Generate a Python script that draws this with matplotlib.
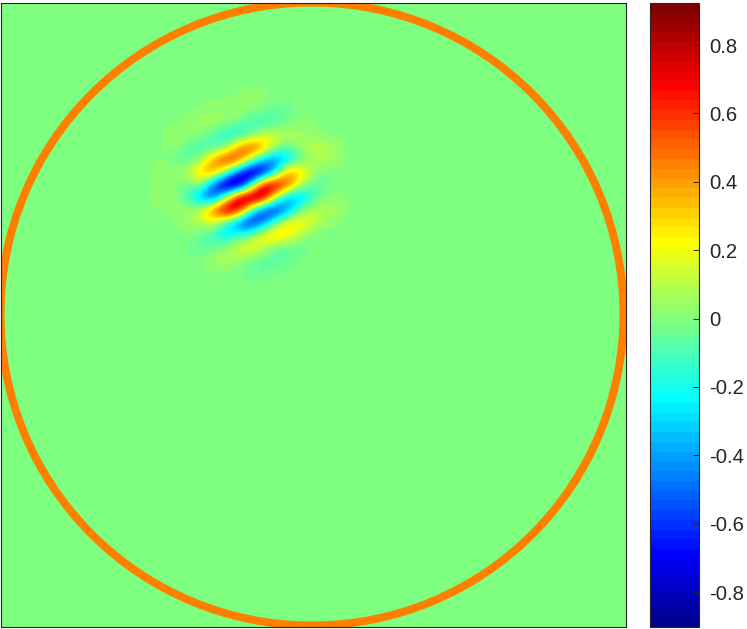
import numpy as np
import matplotlib
matplotlib.use("Agg")
import matplotlib.pyplot as plt
from matplotlib.colors import Normalize, ListedColormap
from matplotlib.patches import Circle
from matplotlib.cm import ScalarMappable

plt.rcParams['font.family'] = ['Liberation Sans', 'DejaVu Sans']

W, H = 747, 629
vmin, vmax = -0.902, 0.923
ring_value = 0.45
colorbar_ticks = [-0.8, -0.6, -0.4, -0.2, 0, 0.2, 0.4, 0.6, 0.8]
colorbar_labels = ['-0.8', '-0.6', '-0.4', '-0.2', '0', '0.2', '0.4', '0.6', '0.8']

# wave packet, read every 12.5 px over x 150..350, y 85..285 of the picture
packet = np.array([
 [0,0,0,0,0,0,0,0,0,0,0,0,0,0,0,0,0],
 [0,0,0,0,0,0,0,.01,.04,.03,.01,0,0,0,0,0,0],
 [0,0,0,0,.01,.03,.05,.06,.02,-.01,-.07,-.04,-.01,0,0,0,0],
 [0,0,.01,.02,.06,.07,.03,-.03,-.12,-.14,-.10,-.03,.03,.01,0,0,0],
 [0,0,.04,.05,.02,-.08,-.19,-.22,-.10,.12,.15,.10,.05,.03,0,0,0],
 [0,.01,.03,-.06,-.15,-.12,-.05,.40,.65,.45,.08,-.08,.05,.10,.10,.03,0],
 [0,.02,-.04,-.08,.03,.40,.70,.65,.12,-.35,-.55,-.32,-.08,.06,.08,.04,0],
 [.01,.03,.05,.08,.35,.45,.02,-.58,-1.02,-.88,-.28,.45,.35,.06,-.03,0,0],
 [0,.03,.01,-.06,.06,-.50,-1.02,-1.05,-.32,.80,.92,.58,.10,-.08,-.06,0,0],
 [.01,.05,.03,-.10,-.42,-.65,-.02,.88,1.10,.95,.12,-.40,-.40,-.14,.02,.03,0],
 [0,.01,.03,.05,.14,.55,.95,.85,-.05,-.65,-.75,-.45,-.02,.12,.08,.05,0],
 [0,0,0,.05,.08,.16,-.15,-.52,-.78,-.52,-.05,.25,.28,.14,.05,.01,0],
 [0,0,0,0,-.03,-.14,-.28,-.18,.0,.27,.36,.28,.08,-.02,-.03,0,0],
 [0,0,0,-.03,-.08,-.03,.03,.17,.22,.13,-.05,-.09,-.05,-.02,0,0,0],
 [0,0,0,0,0,.06,.08,.04,-.02,-.08,-.09,-.05,-.01,0,0,0,0],
 [0,0,0,0,0,0,0,-.02,-.05,-.05,-.02,-.01,0,0,0,0,0],
 [0,0,0,0,0,0,0,0,0,0,0,0,0,0,0,0,0],
])
packet_first_cell = (8, 12)   # row, column of the packet within the field
field_step = 12.5
field_origin = (0.0, -15.0)   # picture x, y of field cell (0, 0)
field_shape = (52, 52)

# ring, in picture pixels
ring_centre = (312.0, 314.0)
ring_radius = 311.5
ring_width_px = 8.0

frame_colour = '#262626'

# the 64-step rainbow palette of the reference
_pos = (np.arange(64) + 1) / 64
_palette = np.column_stack([
    np.interp(_pos, [0, .375, .625, .875, 1], [0, 0, 1, 1, .5]),
    np.interp(_pos, [0, .125, .375, .625, .875, 1], [0, 0, 1, 1, 0, 0]),
    np.interp(_pos, [0, .125, .375, .625, 1], [.5, 1, 1, 0, 0]),
])
cmap = ListedColormap(_palette)
norm = Normalize(vmin, vmax)

fig = plt.figure(figsize=(W / 100, H / 100), dpi=100)

def box(l, t, r, b):
    return [l / W, 1 - b / H, (r - l) / W, (b - t) / H]

field = np.zeros(field_shape)
r0, c0 = packet_first_cell
field[r0:r0 + packet.shape[0], c0:c0 + packet.shape[1]] = packet

ax = fig.add_axes(box(1, 3, 626, 627))
x0, y0 = field_origin
ax.imshow(field, cmap=cmap, norm=norm, interpolation='bicubic', interpolation_stage='data',
          extent=(x0 - field_step / 2, x0 + (field_shape[1] - .5) * field_step,
                  y0 + (field_shape[0] - .5) * field_step, y0 - field_step / 2), zorder=1)
ax.add_patch(Circle(ring_centre, ring_radius, fill=False, edgecolor=cmap(norm(ring_value)),
                    linewidth=ring_width_px * 0.72, zorder=2))
ax.set_xlim(1, 626)
ax.set_ylim(627, 3)
ax.set_aspect('auto')
ax.set_xticks([])
ax.set_yticks([])
for s in ax.spines.values():
    s.set_color(frame_colour)
    s.set_linewidth(0.8)

cax = fig.add_axes(box(650, 3, 699, 627))
cb = fig.colorbar(ScalarMappable(norm=norm, cmap=cmap), cax=cax)
cb.set_ticks(colorbar_ticks, labels=colorbar_labels)
cb.ax.tick_params(direction='in', length=4.3, width=0.7, color=frame_colour,
                  labelcolor=frame_colour, labelsize=14.6, pad=7.5, right=True, left=False)
cb.outline.set_edgecolor(frame_colour)
cb.outline.set_linewidth(0.8)

fig.savefig('out.png', dpi=100)
